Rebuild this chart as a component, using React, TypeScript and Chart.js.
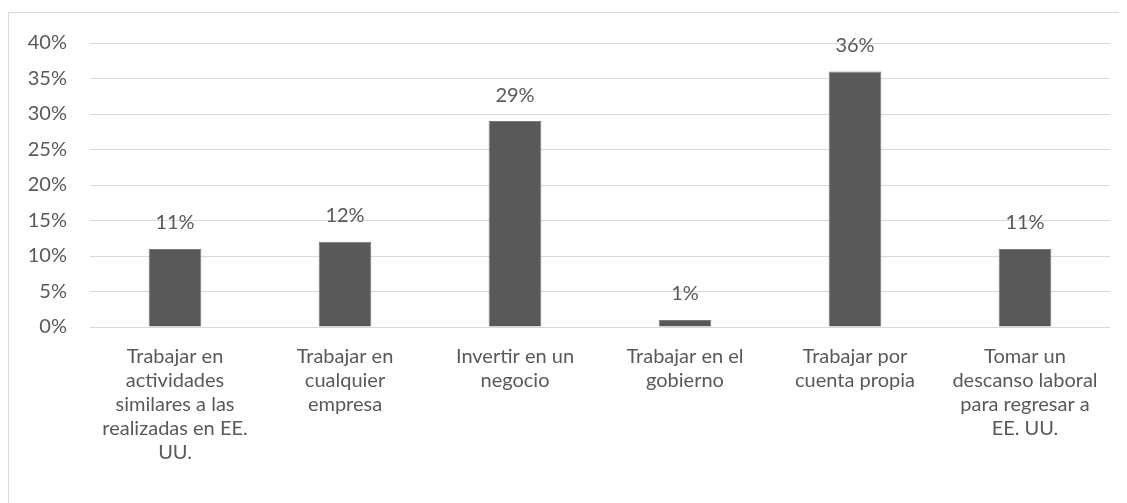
import React, { useEffect, useRef } from "react";
import { Chart, registerables } from "chart.js";

Chart.register(...registerables);

const categories: string[][] = [
  ["Trabajar en", "actividades", "similares a las", "realizadas en EE.", "UU."],
  ["Trabajar en", "cualquier", "empresa"],
  ["Invertir en un", "negocio"],
  ["Trabajar en el", "gobierno"],
  ["Trabajar por", "cuenta propia"],
  ["Tomar un", "descanso laboral", "para regresar a", "EE. UU."],
];
const values: number[] = [11, 12, 29, 1, 36, 11];
const yTicks: number[] = [0, 5, 10, 15, 20, 25, 30, 35, 40];

const FONT = "Lato, 'Open Sans', sans-serif";
const TEXT = "#595959";

const valueLabels = {
  id: "valueLabels",
  afterDatasetsDraw(chart: any) {
    const ctx = chart.ctx;
    const meta = chart.getDatasetMeta(0);
    ctx.save();
    ctx.font = `20px ${FONT}`;
    ctx.fillStyle = TEXT;
    ctx.textAlign = "center";
    ctx.textBaseline = "middle";
    meta.data.forEach((bar: any, i: number) => {
      ctx.fillText(`${values[i]}%`, bar.x, bar.y - 26);
    });
    ctx.restore();
  },
};

export default function App() {
  const ref = useRef<HTMLCanvasElement>(null);
  useEffect(() => {
    document.documentElement.style.overflow = "hidden";
    document.body.style.overflow = "hidden";
    if (!ref.current) return;
    const chart = new Chart(ref.current, {
      type: "bar",
      data: {
        labels: categories,
        datasets: [
          {
            data: values,
            backgroundColor: "#595959",
            borderColor: "#7a7a7a",
            borderWidth: 1,
            categoryPercentage: 1,
            barPercentage: 0.31,
          },
        ],
      },
      options: {
        animation: false,
        responsive: false,
        maintainAspectRatio: false,
        layout: { padding: { left: 0, right: 17, top: 34, bottom: 0 } },
        plugins: { legend: { display: false }, tooltip: { enabled: false } },
        scales: {
          x: {
            grid: { display: false, drawTicks: false },
            border: { display: false },
            ticks: {
              color: TEXT,
              font: { family: FONT, size: 20, lineHeight: 1.2 },
              maxRotation: 0,
              minRotation: 0,
              autoSkip: false,
              padding: 18,
            },
            afterFit: (s: any) => {
              s.height = 176;
            },
          },
          y: {
            min: 0,
            max: 40,
            afterBuildTicks: (s: any) => {
              s.ticks = yTicks.map((v) => ({ value: v }));
            },
            grid: { color: "#d9d9d9", lineWidth: 1, drawTicks: false },
            border: { display: false },
            ticks: {
              color: TEXT,
              font: { family: FONT, size: 20 },
              padding: 23,
              callback: (v: any) => `${v}%`,
            },
            afterFit: (s: any) => {
              s.width = 82;
            },
          },
        },
      },
      plugins: [valueLabels],
    });
    return () => chart.destroy();
  }, []);

  return (
    <div style={{ position: "relative", width: 1119, height: 495, overflow: "hidden" }}>
      <div
        style={{
          position: "absolute",
          left: 0,
          top: 4,
          width: 1119,
          height: 491,
          borderLeft: "1px solid #d9d9d9",
          borderTop: "1px solid #d9d9d9",
          boxSizing: "border-box",
        }}
      />
      <canvas
        ref={ref}
        width={1119}
        height={495}
        style={{ position: "absolute", left: 0, top: 0, width: 1119, height: 495 }}
      />
    </div>
  );
}
